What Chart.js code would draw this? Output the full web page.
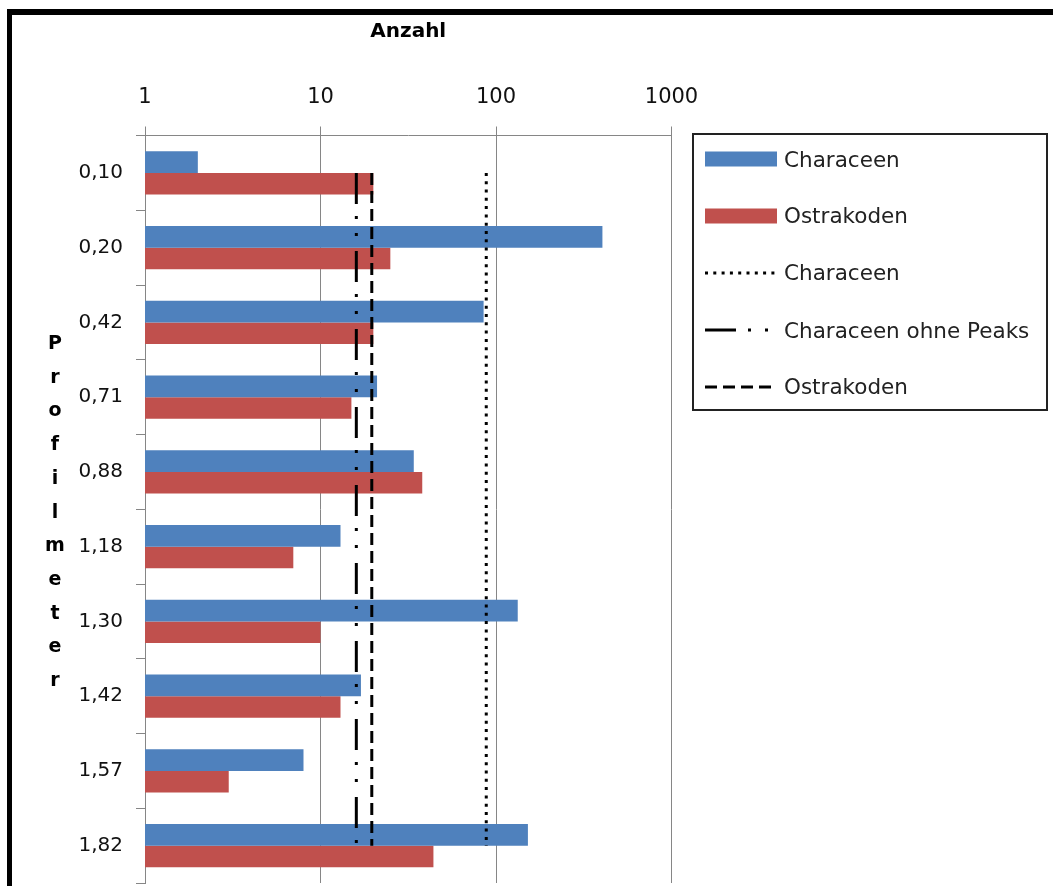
<!DOCTYPE html>
<html lang="de">
<head>
<meta charset="utf-8">
<title>Characeen und Ostrakoden je Profilmeter</title>
<script src="https://cdn.jsdelivr.net/npm/chart.js@4.4.1/dist/chart.umd.min.js"></script>
<style>
    html, body { margin: 0; padding: 0; background: #fff; }
    body { width: 1053px; height: 886px; position: relative; overflow: hidden; font-family: "DejaVu Sans", sans-serif; }
    #chart { position: absolute; left: 0; top: 0; }

    /* Rahmen oben/links (rechts und unten abgeschnitten) */
    .frame { position: absolute; left: 7px; top: 9px; width: 1100px; height: 1000px;
             border-top: 6px solid #000; border-left: 5px solid #000; pointer-events: none; }

    /* Y-Achsentitel: Buchstaben untereinander */
    .axis-title-y { position: absolute; left: 40px; top: 326px; width: 30px; text-align: center;
                    font: bold 19px/33.7px "DejaVu Sans", sans-serif; color: #000; }

    .legend-box { position: absolute; left: 692px; top: 133px; width: 356px; height: 278px;
                  border: 2px solid #222; box-sizing: border-box; }
    .legend-row { position: absolute; left: 705px; height: 57px; display: flex; align-items: center;
                  font: 21.5px "DejaVu Sans", sans-serif; color: #222; white-space: nowrap; }
    .legend-row svg { margin-right: 7px; display: block; }
</style>
</head>
<body>
<canvas id="chart" width="1053" height="886"></canvas>
<div class="frame"></div>
<div class="axis-title-y" id="yTitle"></div>
<div class="legend-box"></div>
<div id="legend"></div>

<script>
// --- Daten ---
const categories = ['0,10', '0,20', '0,42', '0,71', '0,88', '1,18', '1,30', '1,42', '1,57', '1,82'];
const characeen  = [2, 404, 85, 21, 34, 13, 133, 17, 8, 152];
const ostrakoden = [20, 25, 20, 15, 38, 7, 10, 13, 3, 44];

// Mittelwerte (senkrechte Linien)
const meanCharaceen = 88;
const meanCharaceenOhnePeaks = 16;
const meanOstrakoden = 19.6;

const xTicks = [1, 10, 100, 1000];
const yTitle = 'Profilmeter';

const FONT = '"DejaVu Sans", sans-serif';
const GRID = '#868686';

// senkrechte Linie vom ersten bis zum letzten Profilmeter
const vLine = v => [
    { x: v, y: categories[0] },
    { x: v, y: categories[categories.length - 1] }
];

const lineStyle = {
    type: 'line',
    borderColor: '#000',
    borderWidth: 3,
    borderCapStyle: 'butt',
    pointRadius: 0,
    fill: false,
    tension: 0,
    order: 0
};

const chart = new Chart(document.getElementById('chart'), {
    type: 'bar',
    data: {
        labels: categories,
        datasets: [
            { label: 'Characeen', data: characeen, backgroundColor: '#4F81BD',
              categoryPercentage: 0.58, barPercentage: 1, borderWidth: 0, order: 1 },
            { label: 'Ostrakoden', data: ostrakoden, backgroundColor: '#C0504D',
              categoryPercentage: 0.58, barPercentage: 1, borderWidth: 0, order: 1 },
            { ...lineStyle, label: 'Characeen', data: vLine(meanCharaceen), borderDash: [3, 5.3] },
            { ...lineStyle, label: 'Characeen ohne Peaks', data: vLine(meanCharaceenOhnePeaks),
              borderDash: [31, 12, 3, 14, 3, 15] },
            { ...lineStyle, label: 'Ostrakoden', data: vLine(meanOstrakoden), borderDash: [12, 6] }
        ]
    },
    options: {
        indexAxis: 'y',
        responsive: false,
        animation: false,
        events: [],
        layout: { padding: { left: 65, top: 16, right: 381.5, bottom: 3 } },
        plugins: {
            legend: { display: false },
            tooltip: { enabled: false }
        },
        scales: {
            x: {
                type: 'logarithmic',
                position: 'top',
                min: 1,
                max: 1000,
                afterFit: s => { s.height = 119.5; },
                afterBuildTicks: s => { s.ticks = xTicks.map(v => ({ value: v })); },
                border: { color: GRID, width: 1 },
                grid: { color: GRID, lineWidth: 1, tickLength: 9 },
                ticks: { padding: 16, color: '#111', font: { family: FONT, size: 21 },
                         maxRotation: 0, autoSkip: false, callback: v => String(v) },
                title: { display: true, text: 'Anzahl', color: '#000',
                         font: { family: FONT, size: 20, weight: 'bold' }, padding: { top: 4, bottom: 0 } }
            },
            y: {
                type: 'category',
                position: 'left',
                offset: true,
                // feste Breite, keine zusätzliche Randpolsterung oben/unten
                afterFit: s => { s.width = 80; s.paddingTop = 0; s.paddingBottom = 0; },
                border: { color: GRID, width: 1 },
                grid: { drawOnChartArea: false, offset: true, color: GRID, tickLength: 9 },
                ticks: { padding: 13, color: '#111', font: { family: FONT, size: 20 }, autoSkip: false }
            }
        }
    }
});

// --- Achsentitel links (senkrecht gestapelte Buchstaben) ---
document.getElementById('yTitle').innerHTML = yTitle.split('').map(c => `<div>${c}</div>`).join('');

// --- Legende mit Rahmen (aus den Datasets erzeugt) ---
const legendCenters = [159, 215.5, 272.5, 330, 386.5];
const legendEl = document.getElementById('legend');
chart.data.datasets.forEach((ds, i) => {
    const row = document.createElement('div');
    row.className = 'legend-row';
    row.style.top = (legendCenters[i] - 28.5) + 'px';
    let sample;
    if (ds.type === 'line') {
        sample = `<svg width="72" height="16"><line x1="0" y1="8" x2="72" y2="8" stroke="#000"
                   stroke-width="3" stroke-dasharray="${ds.borderDash.join(' ')}"/></svg>`;
    } else {
        sample = `<svg width="72" height="16"><rect x="0" y="0.5" width="72" height="15" fill="${ds.backgroundColor}"/></svg>`;
    }
    row.innerHTML = sample + `<span>${ds.label}</span>`;
    legendEl.appendChild(row);
});
</script>
</body>
</html>
